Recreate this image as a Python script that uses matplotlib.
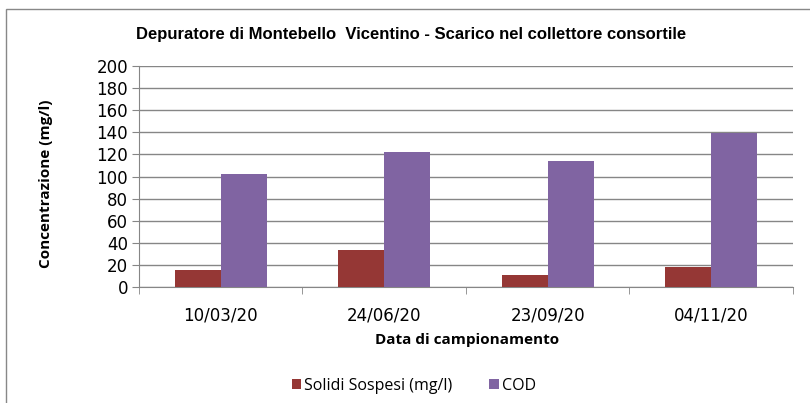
import matplotlib.pyplot as plt
import numpy as np
from matplotlib.patches import Rectangle

dates = ["10/03/20", "24/06/20", "23/09/20", "04/11/20"]
solidi_sospesi = [15, 33, 11, 18]
cod = [102, 122, 114, 139]

fig = plt.figure(figsize=(8.1, 4.03), dpi=100)
ax = fig.add_axes([0.1716, 0.288, 0.8074, 0.548])

# chart frame
fig.patches.append(Rectangle((0.008, -0.1), 1.2, 1.077, transform=fig.transFigure,
                             fill=False, edgecolor="#888888", linewidth=1.0))

x = np.arange(len(dates))
w = 0.28
ax.bar(x - w / 2, solidi_sospesi, width=w, color="#953735", label="Solidi Sospesi (mg/l)", zorder=3)
ax.bar(x + w / 2, cod, width=w, color="#8064A2", label="COD", zorder=3)

ax.set_xlim(-0.5, len(dates) - 0.5)
ax.set_ylim(0, 200)
ax.set_yticks(range(0, 201, 20))
ax.yaxis.grid(True, color="#868686", linewidth=1.0, zorder=0)
ax.set_xticks(x)
ax.set_xticklabels(dates)
ax.set_xticks(np.arange(len(dates) + 1) - 0.5, minor=True)
ax.tick_params(axis="x", which="major", length=0, pad=14)
ax.tick_params(axis="x", which="minor", length=5, color="#868686", direction="out")
ax.tick_params(axis="y", length=5, color="#868686", direction="out", pad=3)

for lbl in ax.get_xticklabels() + ax.get_yticklabels():
    lbl.set_fontfamily("DejaVu Sans")
    lbl.set_fontsize(12)

for side in ["top", "right"]:
    ax.spines[side].set_visible(False)
ax.spines["left"].set_color("#868686")
ax.spines["bottom"].set_color("#868686")

fig.text(0.508, 0.915, "Depuratore di Montebello  Vicentino - Scarico nel collettore consortile",
         ha="center", va="center", fontsize=12, fontweight="bold", family="Liberation Sans")
ax.set_ylabel("Concentrazione (mg/l)", fontsize=11, fontweight="bold", family="Open Sans")
ax.yaxis.set_label_coords(-0.131, 0.466)
ax.set_xlabel("Data di campionamento", fontsize=11, fontweight="bold", family="Open Sans")
ax.xaxis.set_label_coords(0.501, -0.207)

ax.legend(loc="center", bbox_to_anchor=(0.511, 0.043), bbox_transform=fig.transFigure, ncol=2,
          frameon=False, prop={"family": "Open Sans", "size": 11.5}, handlelength=0.6,
          handleheight=0.6, handletextpad=0.2, columnspacing=2.3)

fig.savefig("out.png", dpi=100)
